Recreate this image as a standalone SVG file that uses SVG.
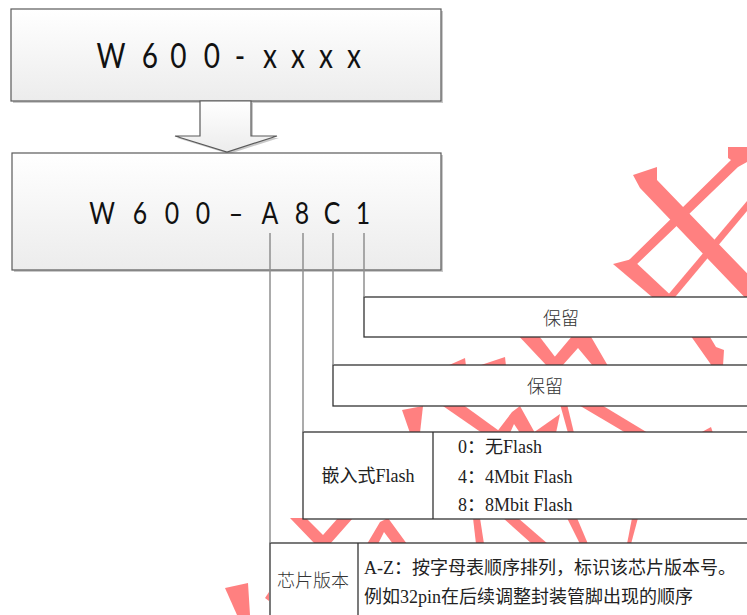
<svg xmlns="http://www.w3.org/2000/svg" width="747" height="615" viewBox="0 0 747 615">
<defs>
<linearGradient id="gbox" x1="0" y1="0" x2="0" y2="1">
<stop offset="0" stop-color="#ffffff"/>
<stop offset="1" stop-color="#ececec"/>
</linearGradient>
<style>
.wm{fill:#ff8080}
.top{fill:url(#gbox);stroke:#5a5a5a;stroke-width:1.2}
.shadow{fill:#c9c9c9}
.big{font-family:Lato,"Liberation Sans",sans-serif;fill:#111;text-anchor:middle}
.cell{fill:#fff;stroke:#333;stroke-width:1.3}
.txt{font-family:"Liberation Serif","Noto Sans CJK SC",serif;font-size:18px;fill:#222}
.cjk{font-family:"Noto Sans CJK SC","Liberation Sans",sans-serif;font-size:18px;fill:#333;font-weight:300}
.conn{stroke:#8f8f8f;stroke-width:1.5;fill:none}
</style>
</defs>
<rect width="747" height="615" fill="#fff"/>
<g id="watermark">
<polygon class="wm" points="633,175 657,167 657,180 765,292 752,305 640,188"/>
<polygon class="wm" points="728,147 747,147 747,162 738,167 635,266 629,260 731,160 728,158"/>
<polygon class="wm" points="613,264 632,259 678,302 658,302"/>
<polygon class="wm" points="747,201 747,211 671,302 662,302"/>
<polygon class="wm" points="447,366 465,358 466,366"/>
<polygon class="wm" points="478,366 505,357 506,366"/>
<polygon class="wm" points="515,332 536,332 562,366 547,366"/>
<polygon class="wm" points="547,366 573,335 590,335 608,366 593,366 578,348 562,366"/>
<polygon class="wm" points="688,332 707,332 716,347 724,350 723,366 712,366"/>
<polygon class="wm" points="402,410 423,406 420,433 410,433"/>
<polygon class="wm" points="440,404 462,404 502,433 482,433"/>
<polygon class="wm" points="496,433 512,412 520,406 535,433 520,433 514,424 510,433"/>
<polygon class="wm" points="533,433 560,414 556,433"/>
<polygon class="wm" points="560,404 567,404 574,433 568,433"/>
<polygon class="wm" points="577,404 600,404 648,433 626,433"/>
<polygon class="wm" points="700,433 711,427 713,433"/>
<polygon class="wm" points="290,518 306,518 323,535 338,518 353,518 330,544 315,544"/>
<polygon class="wm" points="367,544 380,522 388,518 407,544 393,544 384,532 378,544"/>
<polygon class="wm" points="473,518 480,518 484,544 476,544"/>
<polygon class="wm" points="503,518 518,518 548,544 532,544"/>
<polygon class="wm" points="567,518 577,518 588,544 580,544"/>
<polygon class="wm" points="632,518 638,518 631,544 627,544"/>
<polygon class="wm" points="225,588 248,583 250,615 237,615"/>
<polygon class="wm" points="265,598 269,592 269,601"/>
</g>
<g id="node-top">
<rect class="shadow" x="13" y="11" width="430" height="92"/>
<rect class="top" x="11" y="9" width="430" height="92"/>
<text class="big" font-size="35" transform="scale(0.8,1)" y="68" x="138.75 187.5 223 265 300 337.5 372.5 407.5 442.5">W600-xxxx</text>
</g>
<g id="node-arrow">
<polygon class="shadow" points="202,103 253,103 253,138 279,138 229,154 177,138 202,138"/>
<polygon class="top" points="200,101 251,101 251,136 277,136 227,152 175,136 200,136"/>
</g>
<g id="node-code">
<rect class="shadow" x="14" y="155" width="429" height="117"/>
<rect class="top" x="12" y="153" width="429" height="117"/>
<text class="big" font-size="31" transform="scale(0.8,1)" y="224" x="127.5 175 215 253.75 295 337.5 377.5 415 453.75">W600–A8C1</text>
</g>
<g id="node-reserved1">
<rect class="cell" x="364" y="297" width="400" height="40"/>
<text class="cjk" x="561" y="325" text-anchor="middle">保留</text>
</g>
<g id="node-reserved2">
<rect class="cell" x="333" y="365" width="430" height="41"/>
<text class="cjk" x="545" y="393" text-anchor="middle">保留</text>
</g>
<g id="node-flash">
<rect class="cell" x="303" y="432" width="460" height="87"/>
<line class="cell" x1="433" y1="432" x2="433" y2="519"/>
<text class="txt" x="368" y="482" text-anchor="middle">嵌入式Flash</text>
<text class="txt" x="458" y="453">0：无Flash</text>
<text class="txt" x="458" y="483">4：4Mbit Flash</text>
<text class="txt" x="458" y="511">8：8Mbit Flash</text>
</g>
<g id="node-version">
<rect class="cell" x="270" y="543" width="490" height="90"/>
<line class="cell" x1="358" y1="543" x2="358" y2="633"/>
<text class="cjk" x="313" y="587" text-anchor="middle">芯片版本</text>
<text class="txt" x="364" y="574">A-Z：按字母表顺序排列，标识该芯片版本号。</text>
<text class="txt" x="364" y="603">例如32pin在后续调整封装管脚出现的顺序</text>
</g>
<g id="connectors">
<line class="conn" x1="270" y1="233" x2="270" y2="543"/>
<line class="conn" x1="303" y1="233" x2="303" y2="432"/>
<line class="conn" x1="333" y1="233" x2="333" y2="365"/>
<line class="conn" x1="364" y1="233" x2="364" y2="297"/>
</g>
</svg>
